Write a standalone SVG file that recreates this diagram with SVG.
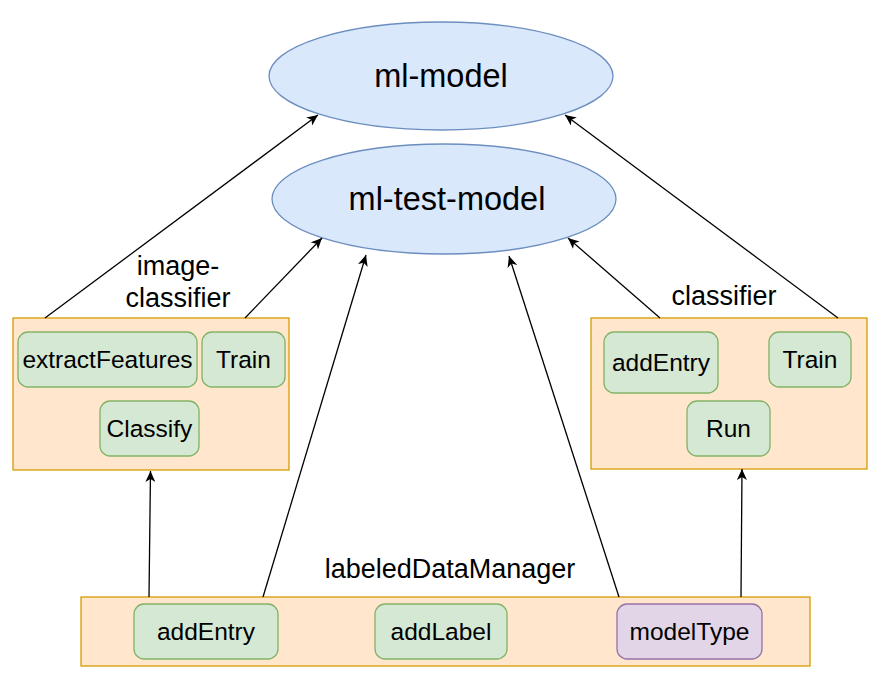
<svg xmlns="http://www.w3.org/2000/svg" width="886" height="680" viewBox="0 0 886 680">
<defs>
<marker id="arr" viewBox="0 0 12 10" refX="11" refY="5" markerWidth="12" markerHeight="10" markerUnits="userSpaceOnUse" orient="auto">
<path d="M0,0 L11,5 L0,10 L3,5 Z" fill="#000"/>
</marker>
</defs>
<style>
text{font-family:"Liberation Sans",Arial,sans-serif;fill:#000;text-anchor:middle}
.ell{fill:#dae8fc;stroke:#6c8ebf;stroke-width:1.3}
.grp{fill:#ffe6cc;stroke:#d79b00;stroke-width:1.3}
.fn{fill:#d5e8d4;stroke:#82b366;stroke-width:1.3}
.pu{fill:#e1d5e7;stroke:#9673a6;stroke-width:1.3}
.big{font-size:32.5px}
.lbl{font-size:24.5px}
.glb{font-size:27px}
.edge{stroke:#000;stroke-width:1.3;fill:none;marker-end:url(#arr)}
</style>
<rect width="886" height="680" fill="#fff"/>
<g id="ml-model"><ellipse class="ell" cx="441" cy="76" rx="172" ry="54"/><text class="big" x="441" y="87">ml-model</text></g>
<g id="ml-test-model"><ellipse class="ell" cx="444" cy="199" rx="172" ry="55"/><text class="big" x="447" y="210">ml-test-model</text></g>
<g id="image-classifier">
<rect class="grp" x="13" y="318" width="276" height="152"/>
<text class="glb" x="178" y="275">image-</text>
<text class="glb" x="178" y="307">classifier</text>
<rect class="fn" x="18" y="332" width="179" height="55" rx="10"/><text class="lbl" x="107.5" y="368">extractFeatures</text>
<rect class="fn" x="202" y="332" width="83" height="55" rx="10"/><text class="lbl" x="243.5" y="368">Train</text>
<rect class="fn" x="100" y="401" width="99" height="55" rx="10"/><text class="lbl" x="149.5" y="437">Classify</text>
</g>
<g id="classifier">
<rect class="grp" x="591" y="318" width="276" height="151"/>
<text class="glb" x="724" y="305">classifier</text>
<rect class="fn" x="604" y="332" width="114" height="61" rx="10"/><text class="lbl" x="661" y="371">addEntry</text>
<rect class="fn" x="769" y="332" width="82" height="55" rx="10"/><text class="lbl" x="810" y="368">Train</text>
<rect class="fn" x="687" y="401" width="83" height="55" rx="10"/><text class="lbl" x="728.5" y="437">Run</text>
</g>
<g id="labeledDataManager">
<rect class="grp" x="81" y="597" width="729" height="69"/>
<text class="glb" x="450" y="578">labeledDataManager</text>
<rect class="fn" x="134" y="604" width="144" height="55" rx="10"/><text class="lbl" x="206" y="640">addEntry</text>
<rect class="fn" x="375" y="604" width="132" height="55" rx="10"/><text class="lbl" x="441" y="640">addLabel</text>
<rect class="pu" x="617" y="604" width="145" height="55" rx="10"/><text class="lbl" x="689.5" y="640">modelType</text>
</g>
<g id="connectors">
<line class="edge" x1="45" y1="318" x2="318" y2="115"/>
<line class="edge" x1="245" y1="318" x2="322" y2="238"/>
<line class="edge" x1="660" y1="318" x2="568" y2="238"/>
<line class="edge" x1="838" y1="318" x2="565" y2="115"/>
<line class="edge" x1="149" y1="597" x2="150.5" y2="471"/>
<line class="edge" x1="263" y1="597" x2="366" y2="255"/>
<line class="edge" x1="619" y1="597" x2="509" y2="256"/>
<line class="edge" x1="741" y1="597" x2="742" y2="469"/>
</g>
</svg>
